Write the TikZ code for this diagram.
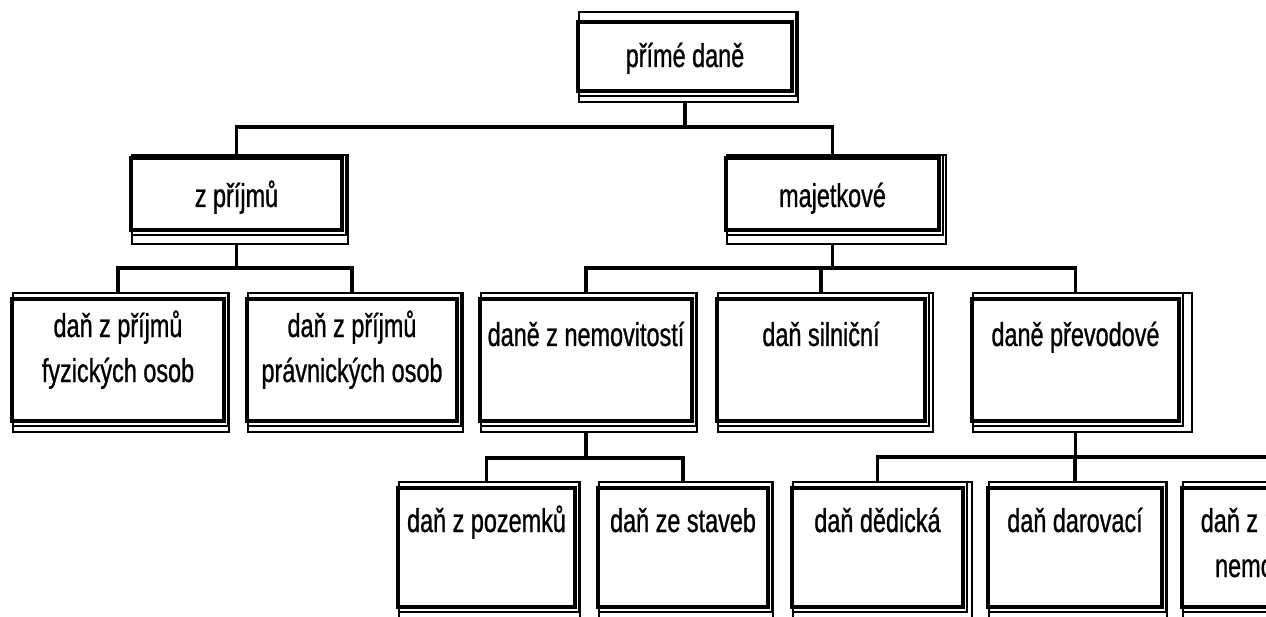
\documentclass[tikz,border=0pt]{standalone}
\usepackage{fontspec}
\setmainfont{Liberation Sans}[FakeStretch=0.71,FakeBold=0.8]
\newcommand\boxdeco[4]{%
  \draw[thinline] ([xshift=1pt,yshift=#2]#1.north west) rectangle ([xshift=#3,yshift=-#4]#1.south east);
  \draw[thinline] ([xshift=1pt,yshift=-5pt]#1.south west) -- ([xshift=4pt,yshift=-5pt]#1.south east) -- ([xshift=4pt,yshift=#2]#1.north east);
}
\begin{document}
\begin{tikzpicture}[x=1pt,y=-1pt,
  box/.style={draw, line width=3.5pt, inner sep=0pt, outer sep=0pt, fill=white},
  lvtop/.style={box, minimum width=214pt, minimum height=69pt},
  lvone/.style={box, minimum height=72pt},
  lvtwo/.style={box, minimum height=122pt},
  lvthree/.style={box, minimum height=119pt},
  thinline/.style={line width=1.2pt},
  conn/.style={line width=3.2pt},
  lbl/.style={inner sep=0pt, anchor=base, align=center, font=\fontsize{33}{45}\selectfont}]
\clip (0,0) rectangle (1266,617);
\fill[white] (0,0) rectangle (1266,617);

% boxes
\node[lvtop] (top) at (685,56.5) {};
\node[lvone, minimum width=211pt] (A) at (236.5,194) {};
\node[lvone, minimum width=213pt] (B) at (832.5,194) {};
\node[lvtwo, minimum width=212pt] (C1) at (118,360) {};
\node[lvtwo, minimum width=210pt] (C2) at (352,360) {};
\node[lvtwo, minimum width=212pt] (C3) at (586,360) {};
\node[lvtwo, minimum width=208pt] (C4) at (821,360) {};
\node[lvtwo, minimum width=207pt] (C5) at (1075.5,360) {};
\node[lvthree, minimum width=177pt] (D1) at (486.5,547.5) {};
\node[lvthree, minimum width=170pt] (D2) at (683,547.5) {};
\node[lvthree, minimum width=171pt] (D3) at (877.5,547.5) {};
\node[lvthree, minimum width=174pt] (D4) at (1075,547.5) {};
\node[lvthree, minimum width=178pt] (D5) at (1271,547.5) {};

% shadow frames
\boxdeco{top}{10pt}{6pt}{11pt}
\boxdeco{A}{3pt}{6pt}{14pt}
\boxdeco{B}{3pt}{7pt}{14pt}
\boxdeco{C1}{6pt}{5pt}{11pt}
\boxdeco{C2}{6pt}{6pt}{11pt}
\boxdeco{C3}{6pt}{5pt}{11pt}
\boxdeco{C4}{6pt}{8pt}{11pt}
\boxdeco{C5}{6pt}{13pt}{11pt}
\boxdeco{D1}{6pt}{5pt}{11pt}
\boxdeco{D2}{6pt}{5pt}{11pt}
\boxdeco{D3}{6pt}{9pt}{11pt}
\boxdeco{D4}{6pt}{5pt}{11pt}
\boxdeco{D5}{6pt}{5pt}{11pt}

% labels (two-line labels: base = baseline of the last line)
\node[lbl] (tTop) at (685,67) {přímé daně};
\node[lbl] (tA) at (236.5,207) {z příjmů};
\node[lbl] (tB) at (832.5,207) {majetkové};
\node[lbl] (tC1) at (118,382) {daň z příjmů\\fyzických osob};
\node[lbl] (tC2) at (352,382) {daň z příjmů\\právnických osob};
\node[lbl] (tC3) at (586,346) {daně z nemovitostí};
\node[lbl] (tC4) at (821,346) {daň silniční};
\node[lbl] (tC5) at (1075.5,346) {daně převodové};
\node[lbl] (tD1) at (486.5,532) {daň z pozemků};
\node[lbl] (tD2) at (683,532) {daň ze staveb};
\node[lbl] (tD3) at (877.5,532) {daň dědická};
\node[lbl] (tD4) at (1075,532) {daň darovací};
\node[lbl] (tD5) at (1275,577) {daň z převodu\\nemovitostí};

% connectors
\coordinate (j0) at (685,127);
\draw[conn] ([yshift=-11pt]top.south) -- (top.south |- j0);
\draw[conn] ([yshift=3pt]A.north) |- (j0) -| ([yshift=3pt]B.north);
\coordinate (j1) at (236.5,268);
\draw[conn] ([yshift=-14pt]A.south) -- (A.south |- j1);
\draw[conn] ([yshift=6pt]C1.north) |- (j1) -| ([yshift=6pt]C2.north);
\coordinate (j2) at (832.5,268);
\draw[conn] ([yshift=-14pt]B.south) -- (B.south |- j2);
\draw[conn] ([yshift=6pt]C3.north) |- (j2) -| ([yshift=6pt]C5.north);
\draw[conn] (C4.north |- j2) -- ([yshift=6pt]C4.north);
\coordinate (j3) at (586,458);
\draw[conn] ([yshift=-11pt]C3.south) -- (C3.south |- j3);
\draw[conn] ([yshift=6pt]D1.north) |- (j3) -| ([yshift=6pt]D2.north);
\coordinate (j4) at (1075.5,457);
\draw[conn] ([yshift=-11pt]C5.south) -- (C5.south |- j4);
\draw[conn] ([yshift=6pt]D3.north) |- (j4) -| ([yshift=6pt]D5.north);
\draw[conn] (D4.north |- j4) -- ([yshift=6pt]D4.north);
\end{tikzpicture}
\end{document}
